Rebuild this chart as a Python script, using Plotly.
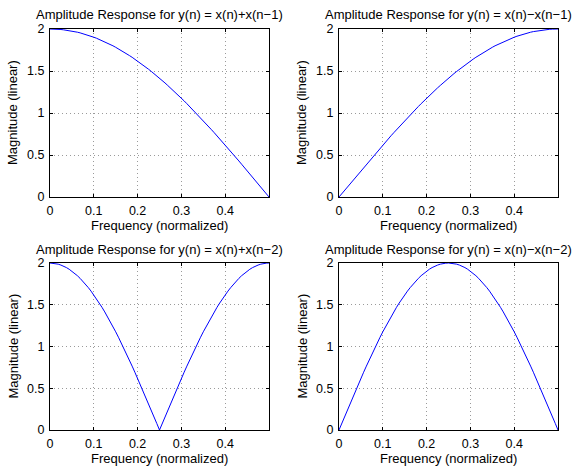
import plotly.graph_objects as go

# Normalized frequency samples (0 .. 0.5, step 0.00625)
freq = [i * 0.00625 for i in range(81)]

# |H| for y(n) = x(n)+x(n-1)
mag_sum1 = [2.000, 2.000, 1.998, 1.997, 1.994, 1.990, 1.986, 1.981, 1.975, 1.969,
            1.962, 1.954, 1.945, 1.935, 1.925, 1.914, 1.902, 1.890, 1.876, 1.862,
            1.848, 1.832, 1.816, 1.800, 1.782, 1.764, 1.745, 1.725, 1.705, 1.684,
            1.663, 1.641, 1.618, 1.595, 1.571, 1.546, 1.521, 1.495, 1.469, 1.442,
            1.414, 1.386, 1.358, 1.328, 1.299, 1.269, 1.238, 1.207, 1.176, 1.144,
            1.111, 1.078, 1.045, 1.011, 0.977, 0.943, 0.908, 0.873, 0.837, 0.801,
            0.765, 0.729, 0.692, 0.655, 0.618, 0.581, 0.543, 0.505, 0.467, 0.429,
            0.390, 0.352, 0.313, 0.274, 0.235, 0.196, 0.157, 0.118, 0.079, 0.039,
            0.000]

# |H| for y(n) = x(n)-x(n-1)
mag_diff1 = [0.000, 0.039, 0.079, 0.118, 0.157, 0.196, 0.235, 0.274, 0.313, 0.352,
             0.390, 0.429, 0.467, 0.505, 0.543, 0.581, 0.618, 0.655, 0.692, 0.729,
             0.765, 0.801, 0.837, 0.873, 0.908, 0.943, 0.977, 1.011, 1.045, 1.078,
             1.111, 1.144, 1.176, 1.207, 1.238, 1.269, 1.299, 1.328, 1.358, 1.386,
             1.414, 1.442, 1.469, 1.495, 1.521, 1.546, 1.571, 1.595, 1.618, 1.641,
             1.663, 1.684, 1.705, 1.725, 1.745, 1.764, 1.782, 1.800, 1.816, 1.832,
             1.848, 1.862, 1.876, 1.890, 1.902, 1.914, 1.925, 1.935, 1.945, 1.954,
             1.962, 1.969, 1.975, 1.981, 1.986, 1.990, 1.994, 1.997, 1.998, 2.000,
             2.000]

# |H| for y(n) = x(n)+x(n-2)
mag_sum2 = [2.000, 1.998, 1.994, 1.986, 1.975, 1.962, 1.945, 1.925, 1.902, 1.876,
            1.848, 1.816, 1.782, 1.745, 1.705, 1.663, 1.618, 1.571, 1.521, 1.469,
            1.414, 1.358, 1.299, 1.238, 1.176, 1.111, 1.045, 0.977, 0.908, 0.837,
            0.765, 0.692, 0.618, 0.543, 0.467, 0.390, 0.313, 0.235, 0.157, 0.079,
            0.000, 0.079, 0.157, 0.235, 0.313, 0.390, 0.467, 0.543, 0.618, 0.692,
            0.765, 0.837, 0.908, 0.977, 1.045, 1.111, 1.176, 1.238, 1.299, 1.358,
            1.414, 1.469, 1.521, 1.571, 1.618, 1.663, 1.705, 1.745, 1.782, 1.816,
            1.848, 1.876, 1.902, 1.925, 1.945, 1.962, 1.975, 1.986, 1.994, 1.998,
            2.000]

# |H| for y(n) = x(n)-x(n-2)
mag_diff2 = [0.000, 0.079, 0.157, 0.235, 0.313, 0.390, 0.467, 0.543, 0.618, 0.692,
             0.765, 0.837, 0.908, 0.977, 1.045, 1.111, 1.176, 1.238, 1.299, 1.358,
             1.414, 1.469, 1.521, 1.571, 1.618, 1.663, 1.705, 1.745, 1.782, 1.816,
             1.848, 1.876, 1.902, 1.925, 1.945, 1.962, 1.975, 1.986, 1.994, 1.998,
             2.000, 1.998, 1.994, 1.986, 1.975, 1.962, 1.945, 1.925, 1.902, 1.876,
             1.848, 1.816, 1.782, 1.745, 1.705, 1.663, 1.618, 1.571, 1.521, 1.469,
             1.414, 1.358, 1.299, 1.238, 1.176, 1.111, 1.045, 0.977, 0.908, 0.837,
             0.765, 0.692, 0.618, 0.543, 0.467, 0.390, 0.313, 0.235, 0.157, 0.079,
             0.000]

titles = ["Amplitude Response for y(n) = x(n)+x(n\u22121)",
          "Amplitude Response for y(n) = x(n)\u2212x(n\u22121)",
          "Amplitude Response for y(n) = x(n)+x(n\u22122)",
          "Amplitude Response for y(n) = x(n)\u2212x(n\u22122)"]
series = [mag_sum1, mag_diff1, mag_sum2, mag_diff2]

x_ticks = [0, 0.1, 0.2, 0.3, 0.4]
x_ticklabels = ["0", "0.1", "0.2", "0.3", "0.4"]
y_ticks = [0, 0.5, 1, 1.5, 2]
y_ticklabels = ["0", "0.5", "1", "1.5", "2"]

W, H = 576, 470
# pixel boxes (left, right, top, bottom)
boxes = [(50, 269, 29, 197), (339, 558, 29, 197),
         (50, 269, 263, 430), (339, 558, 263, 430)]

FONT = "Liberation Sans, Arial, Helvetica, sans-serif"
fig = go.Figure()
annotations = []
for i, (ys, title, box) in enumerate(zip(series, titles, boxes)):
    l, r, t, b = box
    xa = "xaxis" if i == 0 else f"xaxis{i+1}"
    ya = "yaxis" if i == 0 else f"yaxis{i+1}"
    xref = "x" if i == 0 else f"x{i+1}"
    yref = "y" if i == 0 else f"y{i+1}"
    fig.add_trace(go.Scatter(x=freq, y=ys, mode="lines",
                             line=dict(color="#0000ff", width=1),
                             xaxis=xref, yaxis=yref, showlegend=False,
                             hoverinfo="skip"))
    common = dict(showline=True, linecolor="black", linewidth=1.2, mirror="ticks",
                  ticks="inside", ticklen=3, tickcolor="black", automargin=False,
                  showgrid=True, gridcolor="#9a9a9a", griddash="1px,3px", gridwidth=1,
                  zeroline=False, tickfont=dict(family=FONT, size=12.5, color="black"))
    fig.update_layout({
        xa: dict(domain=[l / W, r / W], range=[0, 0.5], anchor=yref,
                 tickvals=x_ticks, ticktext=x_ticklabels, ticklabelstandoff=2,
                 **common),
        ya: dict(domain=[1 - b / H, 1 - t / H], range=[0, 2], anchor=xref,
                 tickvals=y_ticks, ticktext=y_ticklabels, ticklabelstandoff=2,
                 **common),
    })
    cx = (l + r) / 2 / W
    annotations.append(dict(text=title, x=cx, y=1 - (t - 14) / H, xref="paper",
                            yref="paper", showarrow=False, xanchor="center",
                            yanchor="middle",
                            font=dict(family=FONT, size=13, color="black")))
    annotations.append(dict(text="Frequency (normalized)", x=cx, y=1 - (b + 28) / H,
                            xref="paper", yref="paper", showarrow=False,
                            xanchor="center", yanchor="middle",
                            font=dict(family=FONT, size=13, color="black")))
    annotations.append(dict(text="Magnitude (linear)", x=(l - 37) / W,
                            y=1 - (t + b) / 2 / H, xref="paper", yref="paper",
                            showarrow=False, textangle=-90, xanchor="center",
                            yanchor="middle",
                            font=dict(family=FONT, size=13, color="black")))

fig.update_layout(width=W, height=H, margin=dict(l=0, r=0, t=0, b=0),
                  paper_bgcolor="white", plot_bgcolor="white",
                  annotations=annotations, font=dict(family=FONT))
fig.write_html("out.html", config={"displayModeBar": False},
               post_script="document.body.style.margin='0';"
                           "document.body.style.overflow='hidden';")
